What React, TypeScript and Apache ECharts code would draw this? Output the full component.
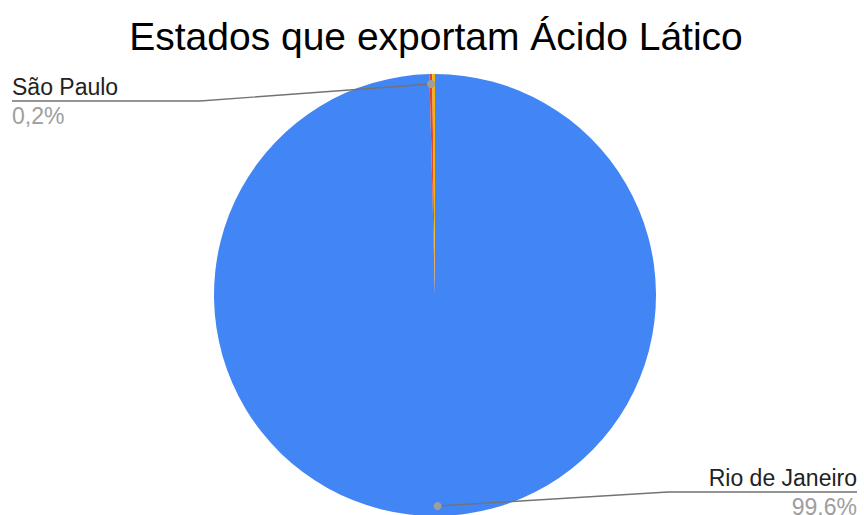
import React, { useEffect, useRef } from "react";
import * as echarts from "echarts";

const titleText = "Estados que exportam Ácido Lático";
const states = ["Rio de Janeiro", "São Paulo", "Outros"];
const values = [99.6, 0.2, 0.2];
const percentLabels = ["99.6%", "0,2%", ""];
const showLabel = [true, true, false];
const colors = ["#4285F4", "#DB4437", "#F4B400"];

const W = 864;
const H = 515;
const CX = 435;
const CY = 295;
const R = 221;
const DOT_R = 0.955;
const FONT = "Arial, 'Liberation Sans', sans-serif";

export default function App() {
  const ref = useRef<HTMLDivElement>(null);
  useEffect(() => {
    if (!ref.current) return;
    const chart = echarts.init(ref.current, null, { renderer: "svg", width: W, height: H });

    const total = values.reduce((a, b) => a + b, 0);
    const dots: any[] = [];
    let cum = 0;
    values.forEach((v, i) => {
      const mid = (cum + v / 2) / total;
      cum += v;
      if (!showLabel[i]) return;
      const th = ((90 - 360 * mid) * Math.PI) / 180;
      dots.push({
        type: "circle",
        shape: { cx: CX + R * DOT_R * Math.cos(th), cy: CY - R * DOT_R * Math.sin(th), r: 4 },
        style: { fill: "#9e9e9e" },
        z: 100,
      });
    });

    const sliceData = states.map((name, i) => ({
      name,
      value: values[i],
      itemStyle: { color: colors[i] },
    }));

    const labelData = states.map((name, i) => ({
      name,
      value: values[i],
      label: {
        show: showLabel[i],
        formatter: `{n|${name}}\n{p|${percentLabels[i]}}`,
      },
      labelLine: { show: showLabel[i] },
    }));

    chart.setOption({
      animation: false,
      backgroundColor: "#ffffff",
      graphic: [
        {
          type: "text",
          x: 436,
          y: 36,
          z: 100,
          style: {
            text: titleText,
            textAlign: "center",
            textVerticalAlign: "middle",
            fontFamily: FONT,
            fontSize: 39,
            fill: "#000000",
          },
        },
        ...dots,
      ],
      series: [
        {
          type: "pie",
          z: 2,
          center: [CX, CY],
          radius: [0, R],
          startAngle: 90,
          clockwise: true,
          silent: true,
          itemStyle: { borderWidth: 0 },
          emphasis: { disabled: true },
          label: { show: false },
          labelLine: { show: false },
          data: sliceData,
        },
        {
          type: "pie",
          z: 5,
          center: [CX, CY],
          radius: [0, R],
          startAngle: 90,
          clockwise: true,
          silent: true,
          avoidLabelOverlap: false,
          itemStyle: { color: "rgba(0,0,0,0)", borderWidth: 0 },
          emphasis: { disabled: true },
          label: {
            position: "outside",
            fontFamily: FONT,
            rich: {
              n: { fontFamily: FONT, fontSize: 23, color: "#222222", lineHeight: 29 },
              p: { fontFamily: FONT, fontSize: 23, color: "#9e9e9e", lineHeight: 29 },
            },
          },
          labelLine: { lineStyle: { color: "#737373", width: 1.4 } },
          labelLayout: (params: any) => {
            const p0 = params.labelLinePoints ? params.labelLinePoints[0] : [CX, CY];
            const dx = CX + (p0[0] - CX) * DOT_R;
            const dy = CY + (p0[1] - CY) * DOT_R;
            if (params.dataIndex === 0) {
              return {
                x: 857,
                y: 492,
                align: "right",
                verticalAlign: "middle",
                labelLinePoints: [[dx, dy], [668, 492], [857, 492]],
              };
            }
            if (params.dataIndex === 1) {
              return {
                x: 12,
                y: 101,
                align: "left",
                verticalAlign: "middle",
                labelLinePoints: [[dx, dy], [200, 101], [12, 101]],
              };
            }
            return {};
          },
          data: labelData,
        },
      ],
    });
    return () => chart.dispose();
  }, []);
  return (
    <div
      ref={ref}
      style={{ position: "fixed", left: 0, top: 0, width: W, height: H, background: "#fff" }}
    />
  );
}
